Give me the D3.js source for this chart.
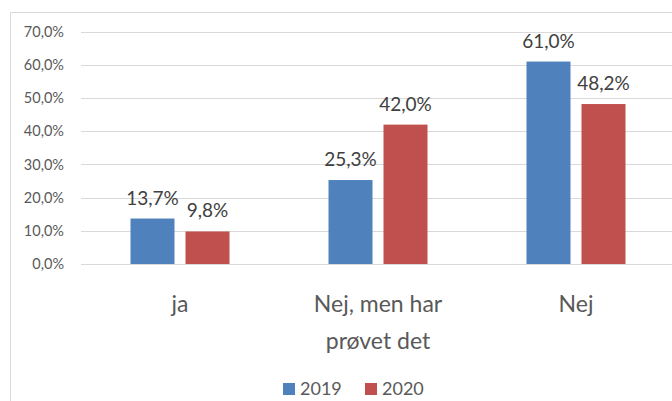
<!DOCTYPE html>
<html>
<head>
    <meta charset="utf-8">
    <title>Ja / Nej 2019-2020</title>
    <script src="https://d3js.org/d3.v7.min.js"></script>
    <style>
        body {
            margin: 0;
            padding: 0;
            background: #ffffff;
            overflow: hidden;
            font-family: Lato, "Open Sans", sans-serif;
        }
        .grid line { stroke: #d9d9d9; stroke-width: 1; }
        .tick-label { fill: #595959; font-size: 14.5px; }
        .cat-label { fill: #595959; font-size: 23px; }
        .value-label { fill: #404040; font-size: 19px; }
        .legend text { fill: #595959; font-size: 18px; }
    </style>
</head>
<body>
    <div id="chart"></div>
    <script>
        const width = 672;
        const height = 401;

        // Data
        const categories = [['ja'], ['Nej, men har', 'prøvet det'], ['Nej']];
        const seriesNames = ['2019', '2020'];
        const values2019 = [13.7, 25.3, 61.0];
        const values2020 = [9.8, 42.0, 48.2];
        const yTicks = [0, 10, 20, 30, 40, 50, 60, 70];
        const colors = ['#4f81bd', '#c0504d'];

        const series = [values2019, values2020];

        const svg = d3.select('#chart')
            .append('svg')
            .attr('width', width)
            .attr('height', height);

        // Chart frame (left and top edges visible)
        svg.append('line')
            .attr('x1', 10.5).attr('x2', 10.5)
            .attr('y1', 12.5).attr('y2', height)
            .attr('stroke', '#d9d9d9');
        svg.append('line')
            .attr('x1', 10.5).attr('x2', width)
            .attr('y1', 12.5).attr('y2', 12.5)
            .attr('stroke', '#d9d9d9');

        const plotLeft = 81;
        const plotRight = 675;

        const y = d3.scaleLinear()
            .domain([0, 70])
            .range([264, 31.7]);

        const x0 = d3.scaleBand()
            .domain(d3.range(categories.length))
            .range([plotLeft, plotRight])
            .paddingInner(0.5)
            .paddingOuter(0.25);

        const x1 = d3.scaleBand()
            .domain(seriesNames)
            .range([0, x0.bandwidth()])
            .paddingInner(0.2);

        // Gridlines
        svg.append('g')
            .attr('class', 'grid')
            .selectAll('line')
            .data(yTicks)
            .join('line')
            .attr('x1', plotLeft)
            .attr('x2', width)
            .attr('y1', d => Math.round(y(d)) + 0.5)
            .attr('y2', d => Math.round(y(d)) + 0.5);

        // Y tick labels
        svg.append('g')
            .selectAll('text')
            .data(yTicks)
            .join('text')
            .attr('class', 'tick-label')
            .attr('x', 64)
            .attr('y', d => y(d))
            .attr('dy', '0.35em')
            .attr('text-anchor', 'end')
            .text(d => d.toFixed(1).replace('.', ',') + '%');

        // Bars
        const groups = svg.append('g')
            .selectAll('g')
            .data(categories.map((c, i) => i))
            .join('g')
            .attr('transform', i => `translate(${x0(i)},0)`);

        groups.selectAll('rect')
            .data(i => seriesNames.map((s, k) => ({ key: s, value: series[k][i], k })))
            .join('rect')
            .attr('x', d => x1(d.key))
            .attr('y', d => y(d.value))
            .attr('width', x1.bandwidth())
            .attr('height', d => y(0) - y(d.value))
            .attr('fill', d => colors[d.k]);

        groups.selectAll('text.value-label')
            .data(i => seriesNames.map((s, k) => ({ key: s, value: series[k][i], k })))
            .join('text')
            .attr('class', 'value-label')
            .attr('x', d => x1(d.key) + x1.bandwidth() / 2)
            .attr('y', d => y(d.value) - 14)
            .attr('text-anchor', 'middle')
            .text(d => d.value.toFixed(1).replace('.', ',') + '%');

        // Category labels
        const catLabels = svg.append('g')
            .selectAll('text')
            .data(categories)
            .join('text')
            .attr('class', 'cat-label')
            .attr('text-anchor', 'middle')
            .attr('x', (d, i) => x0(i) + x0.bandwidth() / 2)
            .attr('y', 312);

        catLabels.selectAll('tspan')
            .data(d => d)
            .join('tspan')
            .attr('x', function() { return d3.select(this.parentNode).attr('x'); })
            .attr('dy', (d, i) => i === 0 ? 0 : 37)
            .text(d => d);

        // Legend
        const legend = svg.append('g')
            .attr('class', 'legend')
            .attr('transform', 'translate(283,383)');

        const legendItem = legend.selectAll('g')
            .data(seriesNames)
            .join('g')
            .attr('transform', (d, i) => `translate(${i * 82},0)`);

        legendItem.append('rect')
            .attr('width', 12)
            .attr('height', 12)
            .attr('fill', (d, i) => colors[i]);

        legendItem.append('text')
            .attr('x', 17)
            .attr('y', 6)
            .attr('dy', '0.36em')
            .text(d => d);
    </script>
</body>
</html>
